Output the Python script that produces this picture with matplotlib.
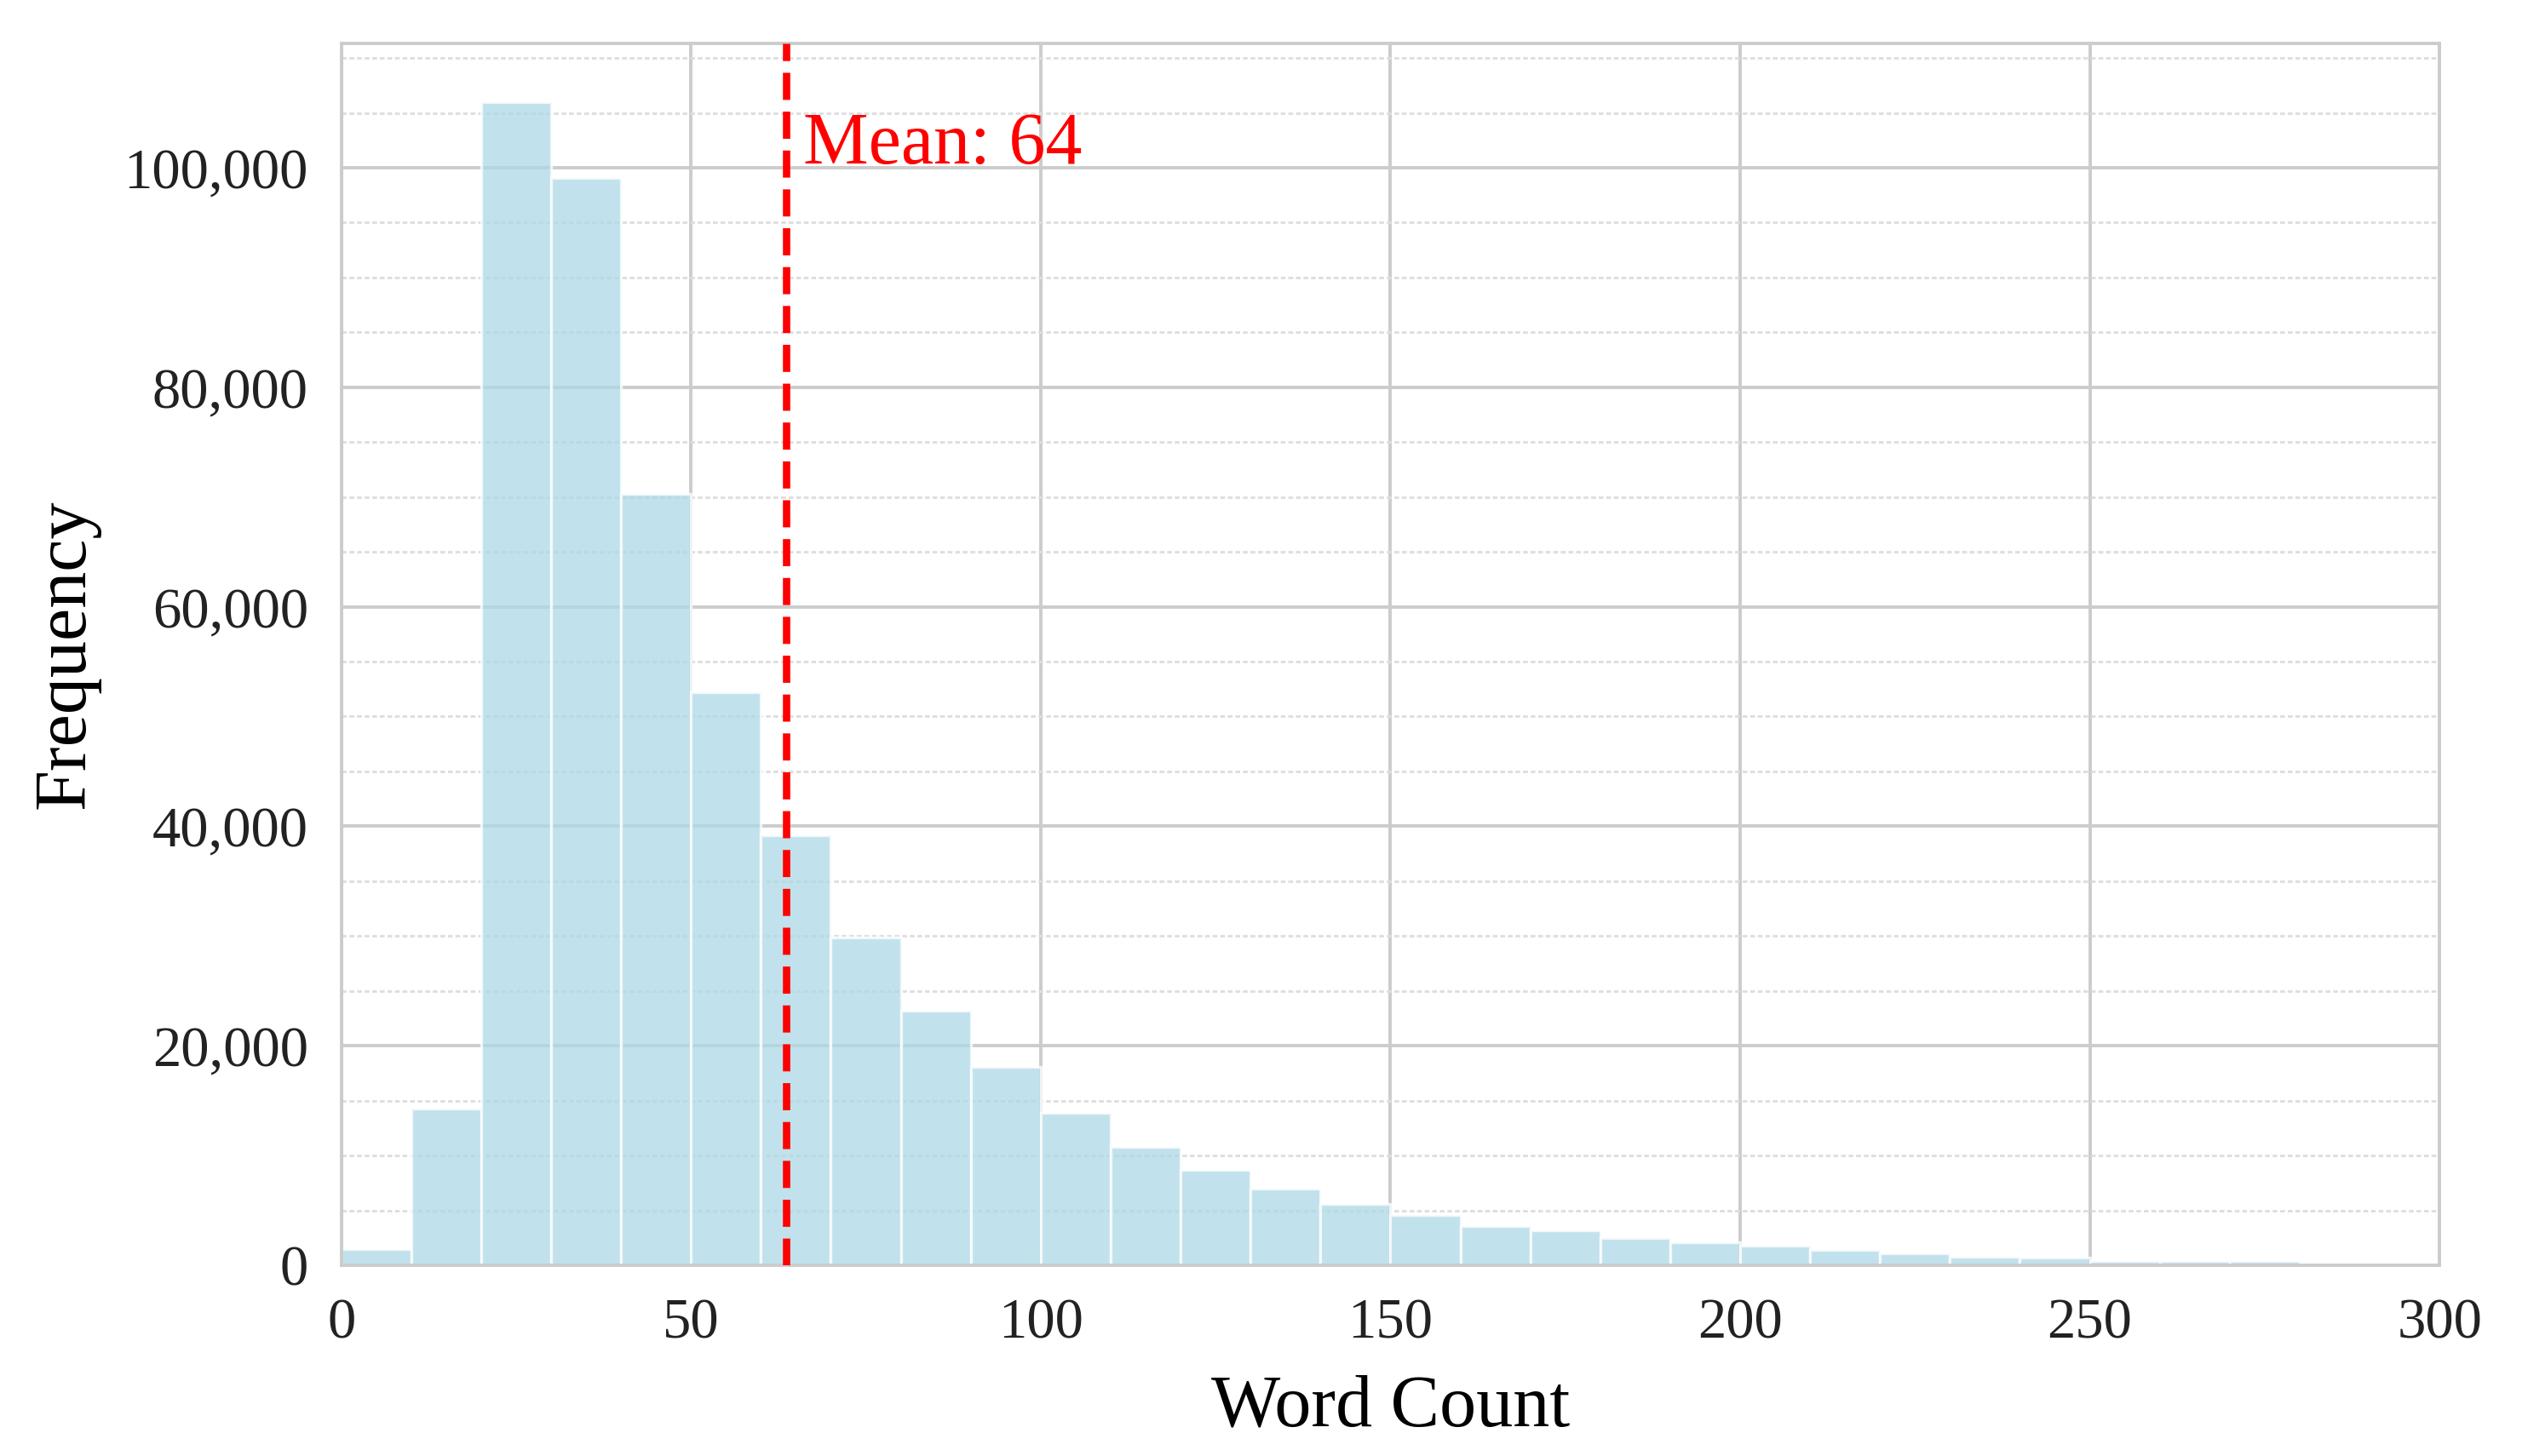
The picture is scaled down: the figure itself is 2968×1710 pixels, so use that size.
import matplotlib
matplotlib.use("Agg")
import matplotlib.pyplot as plt
from matplotlib.ticker import MultipleLocator, FuncFormatter

# histogram of words per sample, bins of 10 words
bin_starts = list(range(0, 300, 10))
counts = [1500, 14300, 106000, 99100, 70300, 52200, 39200, 29900, 23200, 18100,
          13900, 10800, 8700, 7000, 5600, 4550, 3550, 3150, 2500, 2100,
          1750, 1400, 1050, 750, 700, 400, 350, 350, 0, 0]
mean_words = 63.6

plt.rcParams["font.family"] = ["Liberation Serif", "DejaVu Serif"]

fig = plt.figure(figsize=(14.84, 8.55), dpi=200)
ax = fig.add_axes([0.135, 0.131, 0.83, 0.839])

ax.bar(bin_starts, counts, width=10, align="edge", color="lightblue", alpha=0.75,
       edgecolor="white", linewidth=1.2, zorder=2)

ax.axvline(mean_words, color="red", linestyle="--", linewidth=3.1, zorder=3)
ax.text(mean_words + 2.5, 102000, f"Mean: {mean_words:.0f}", color="red",
        fontsize=31, va="center", ha="left", zorder=4)

ax.set_xlim(0, 300)
ax.xaxis.set_major_locator(MultipleLocator(50))
ax.yaxis.set_major_locator(MultipleLocator(20000))
ax.yaxis.set_minor_locator(MultipleLocator(5000))
ax.yaxis.set_major_formatter(FuncFormatter(lambda v, p: f"{int(v):,}"))

ax.grid(True, which="major", color="#cccccc", linewidth=1.4, zorder=0)
ax.grid(True, which="minor", axis="y", color="#dddddd", linewidth=1.0,
        linestyle=(0, (2, 1.2)), zorder=0)
ax.set_axisbelow(True)

for s in ax.spines.values():
    s.set_color("#cccccc")
    s.set_linewidth(1.4)

ax.tick_params(which="both", length=0, labelsize=24, pad=14, colors="#222222")

ax.set_xlabel("Word Count", fontsize=31, labelpad=10)
ax.set_ylabel("Frequency", fontsize=31, labelpad=10)

fig.savefig("out.png", dpi=200, facecolor="white")
